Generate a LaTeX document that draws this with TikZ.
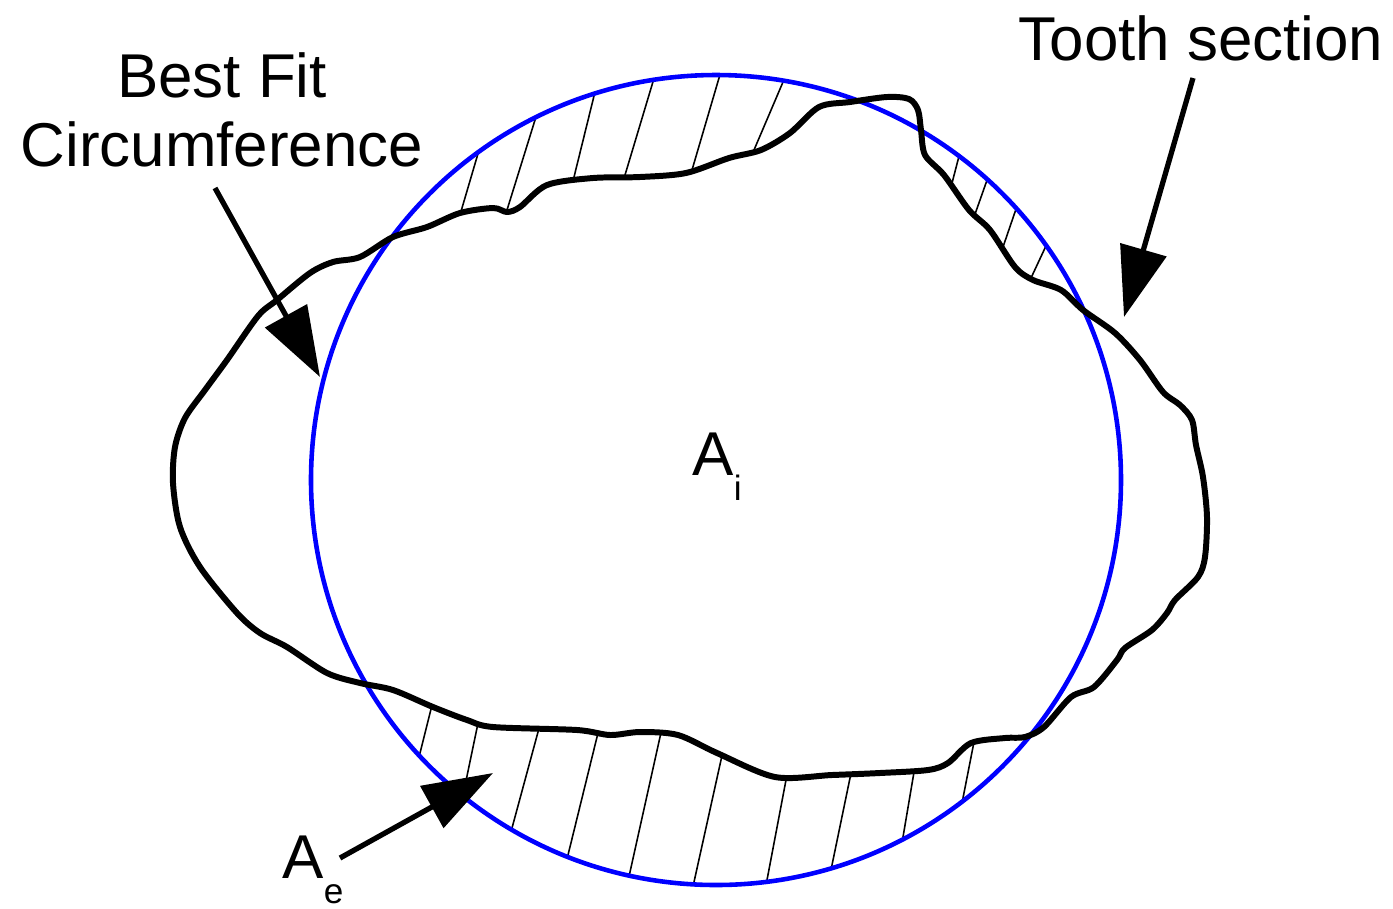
\documentclass[tikz,border=0pt]{standalone}
\usepackage{fontspec}
\setmainfont{Liberation Sans}
\usepackage{tikz}
\usetikzlibrary{arrows.meta, calc}
\definecolor{cFit}{RGB}{0,0,255}
\tikzset{
	fitcircle/.style={draw=cFit, line width=1.3pt},
	profile/.style  ={draw=black, line width=1.7pt, line join=round},
	hatchln/.style  ={line width=0.45pt},
	pointer/.style  ={-{Triangle[length=7mm, width=4.7mm]}, line width=1.5pt},
	lbltext/.style  ={font=\fontsize{17.6}{19.6}\selectfont, inner sep=0pt},
}
\newcommand{\lowsub}[1]{\raisebox{-7.2pt}{\fontsize{10}{12}\selectfont #1}}
\def\toothsec{plot[smooth cycle] coordinates {(173,483) (175,447) (185,418) (205,390) (227,360) (258,316) (277,300) (310,273) (333,262) (360,257) (393,237) (427,227) (460,213) (493,208) (507,212) (520,207) (547,185) (593,178) (640,177) (686,173) (729,158) (761,150) (790,133) (819,107) (850,102) (887,97) (909,99) (918,110) (921,130) (925,155) (944,175) (969,210) (990,230) (1015,267) (1033,280) (1061,290) (1083,310) (1115,333) (1140,360) (1163,392) (1180,405) (1192,420) (1196,445) (1203,477) (1207,517) (1205,557) (1198,577) (1175,600) (1167,613) (1152,630) (1125,648) (1117,660) (1094,687) (1071,697) (1044,727) (1025,737) (1005,738) (971,743) (948,763) (928,770) (880,773) (832,775) (775,777) (717,753) (678,735) (640,732) (610,735) (577,730) (493,727) (467,720) (433,707) (393,690) (360,683) (327,673) (287,647) (260,633) (237,613) (200,567) (180,527)}}

\begin{document}
\begin{tikzpicture}[x=0.01cm, y=-0.01cm]
	\useasboundingbox (0,0) rectangle (1393,908);
	% hatching between circle and profile
	\begin{scope}
		\clip (716,480) circle (405);
		\foreach \xa/\ya/\xb/\yb in {462/208/477/157, 507/210/535/120, 575/173/593/100, 625/175/652/85, 692/170/719/78, 754/150/783/82,
				951/187/958/160, 974/217/986/183, 1003/247/1015/212, 1031/278/1045/248,
				430/713/420/753, 477/728/462/800, 538/732/512/828, 597/737/568/855, 660/737/630/872, 721/760/694/882, 786/780/767/880, 850/778/832/865, 913/778/903/837, 973/747/963/798}
			\draw[hatchln] ($(\xa,\ya)!-0.4!(\xb,\yb)$) -- ($(\xa,\ya)!1.4!(\xb,\yb)$);
	\end{scope}
	% tooth section and best fit circle
	\fill[white] \toothsec;
	\draw[fitcircle] (716,480) circle (405);
	\draw[profile] \toothsec;
	% labels
	\node[lbltext, anchor=north, align=center] (bestfit) at (222,52) {Best Fit\\Circumference};
	\node[lbltext, anchor=base] (tooth) at (1201,60) {Tooth section};
	\node[lbltext, anchor=base west] (ai) at (692,475) {A\lowsub{i}};
	\node[lbltext, anchor=base west] (ae) at (282,878) {A\lowsub{e}};
	% arrows
	\coordinate (bfTail) at (215,188);
	\coordinate (bfTip) at (320,377);
	\coordinate (tsTail) at (1193,78);
	\coordinate (tsTip) at (1124,317);
	\coordinate (aeTail) at (340,858);
	\coordinate (aeTip) at (493,773);
	\draw[pointer] (bfTail) -- (bfTip);
	\draw[pointer] (tsTail) -- (tsTip);
	\draw[pointer] (aeTail) -- (aeTip);
\end{tikzpicture}
\end{document}
